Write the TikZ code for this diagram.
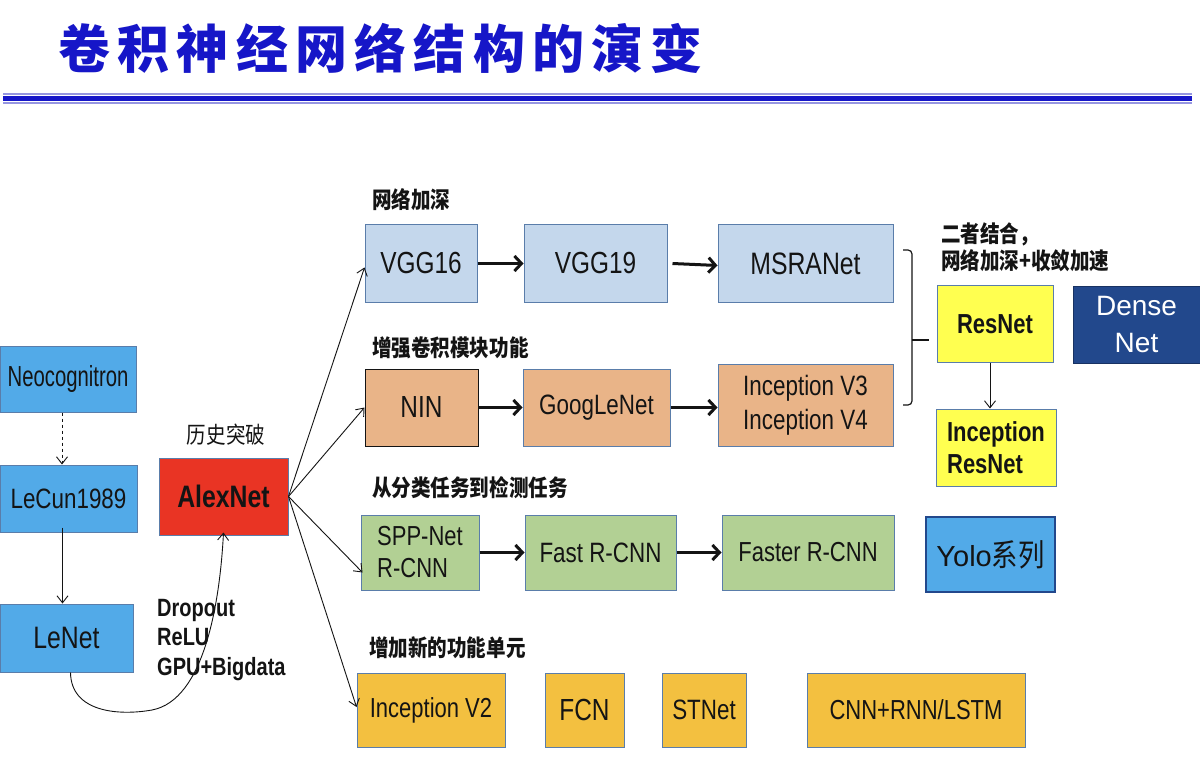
\documentclass[tikz,border=0pt]{standalone}
\usepackage{fontspec}
\setmainfont{Liberation Sans}[FakeStretch=0.8]
\newfontfamily\narrowfont{Liberation Sans}[FakeStretch=0.7]
\newfontfamily\widefont{Liberation Sans}
\newfontfamily\cjk{Noto Sans CJK SC}[FakeStretch=0.85]
\newfontfamily\titlefont{Noto Sans CJK SC}[LetterSpace=14]
\usetikzlibrary{arrows.meta,calc}

\definecolor{titleblue}{RGB}{22,22,200}
\definecolor{rulelight}{RGB}{150,150,225}
\definecolor{skyblue}{RGB}{82,170,232}
\definecolor{alexred}{RGB}{233,52,36}
\definecolor{paleblue}{RGB}{196,215,236}
\definecolor{tan}{RGB}{233,180,136}
\definecolor{sage}{RGB}{178,208,148}
\definecolor{lemon}{RGB}{255,255,80}
\definecolor{navy}{RGB}{34,72,140}
\definecolor{amber}{RGB}{243,192,64}
\definecolor{edge}{RGB}{90,125,170}
\definecolor{ink}{RGB}{20,20,20}

\tikzset{
  box/.style={draw=edge, line width=1pt, inner sep=2pt, text=ink, align=center},
  thin/.style={draw=ink, line width=0.9pt, -{Straight Barb[length=7pt,width=11pt]}},
  thick/.style={draw=ink, line width=3pt, -{Straight Barb[length=7pt,width=15pt]}},
  tag/.style={anchor=west, inner sep=0pt, text=ink, font=\cjk\bfseries\fontsize{23}{26}\selectfont},
}

\begin{document}
\begin{tikzpicture}[x=1pt,y=-1pt]
\useasboundingbox (0,0) rectangle (1200,770);
\fill[white] (0,0) rectangle (1200,770);

% title and rules
\node[anchor=west, inner sep=0pt, text=titleblue, font=\titlefont\bfseries\fontsize{52}{56}\selectfont] (title) at (58,48) {卷积神经网络结构的演变};
\draw[rulelight, line width=1.5pt] (3,94) -- (1192,94);
\draw[titleblue, line width=4.5pt] (3,98.5) -- (1192,98.5);
\draw[rulelight, line width=1.5pt] (3,103) -- (1192,103);

% early networks
\node[box, fill=skyblue, minimum width=136pt, minimum height=66pt, font=\narrowfont\fontsize{29}{30}\selectfont] (neo) at (68,379) {Neocognitron};
\node[box, fill=skyblue, minimum width=137pt, minimum height=67pt, font=\fontsize{28}{30}\selectfont] (lecun) at (68.5,498.5) {LeCun1989};
\node[box, fill=skyblue, minimum width=133pt, minimum height=68pt, font=\fontsize{31}{33}\selectfont] (lenet) at (66.5,638) {LeNet};
\node[box, fill=alexred, minimum width=129pt, minimum height=77pt, font=\bfseries\fontsize{31}{33}\selectfont] (alex) at (223.5,496.5) {AlexNet};

\node[anchor=center, inner sep=0pt, text=ink, font=\cjk\fontsize{23}{26}\selectfont] (breakthrough) at (226,435) {历史突破};
\node[anchor=north west, inner sep=0pt, text=ink, align=left, font=\bfseries\fontsize{25}{29.5}\selectfont] (tricks) at (157,599) {Dropout\\ReLU\\GPU+Bigdata};

% deeper networks
\node[tag] (deeper) at (372,200) {网络加深};
\node[box, fill=paleblue, minimum width=112pt, minimum height=77pt, font=\fontsize{30.5}{33}\selectfont] (vgg16) at (421,263.5) {VGG16};
\node[box, fill=paleblue, minimum width=143pt, minimum height=77pt, font=\fontsize{30.5}{33}\selectfont] (vgg19) at (595.5,263.5) {VGG19};
\node[box, fill=paleblue, minimum width=175pt, minimum height=77pt, font=\fontsize{31}{33}\selectfont] (msra) at (805.5,263.5) {MSRANet};

% stronger modules
\node[tag] (modules) at (372,348) {增强卷积模块功能};
\node[box, draw=ink, fill=tan, minimum width=113pt, minimum height=77pt, font=\fontsize{30.5}{33}\selectfont] (nin) at (421.5,407.5) {NIN};
\node[box, fill=tan, minimum width=147pt, minimum height=77pt, font=\fontsize{28}{30}\selectfont] (goog) at (596.5,407.5) {GoogLeNet};
\node[box, fill=tan, minimum width=175pt, minimum height=82pt, align=left, font=\fontsize{28}{34}\selectfont] (inc34) at (805.5,405) {Inception V3\\Inception V4};

% combination
\node[anchor=north west, inner sep=0pt, text=ink, align=left, font=\cjk\bfseries\fontsize{23}{27}\selectfont] (combo) at (941,222) {二者结合，\\网络加深+收敛加速};
\node[box, fill=lemon, minimum width=116pt, minimum height=76pt, font=\bfseries\fontsize{27.5}{30}\selectfont] (resnet) at (995,324) {ResNet};
\node[box, draw=navy!70!black, fill=navy, text=white, minimum width=127pt, minimum height=76pt, font=\widefont\fontsize{28}{37}\selectfont] (dense) at (1136.5,325) {Dense\\Net};
\node[box, fill=lemon, minimum width=120pt, minimum height=77pt, align=left, font=\bfseries\fontsize{27.5}{32}\selectfont] (incres) at (996,447.5) {Inception\\ResNet};

% detection
\node[tag] (detect) at (372,488) {从分类任务到检测任务};
\node[box, fill=sage, minimum width=118pt, minimum height=75pt, align=left, font=\fontsize{27.5}{32}\selectfont] (spp) at (420,552.5) {SPP-Net\\R-CNN};
\node[box, fill=sage, minimum width=151pt, minimum height=75pt, font=\fontsize{28}{30}\selectfont] (fast) at (600.5,552.5) {Fast R-CNN};
\node[box, fill=sage, minimum width=172pt, minimum height=75pt, font=\fontsize{27.5}{30}\selectfont] (faster) at (808,552.5) {Faster R-CNN};
\node[box, draw=navy, line width=1.6pt, fill=skyblue, minimum width=129pt, minimum height=75pt, font=\widefont\fontsize{29}{32}\selectfont] (yolo) at (990.5,554.5) {Yolo{\cjk\fontsize{31}{32}\selectfont 系列}};

% new units
\node[tag] (units) at (369,648) {增加新的功能单元};
\node[box, fill=amber, minimum width=148pt, minimum height=74pt, font=\fontsize{27.5}{30}\selectfont] (incv2) at (431,710) {Inception V2};
\node[box, fill=amber, minimum width=79pt, minimum height=74pt, font=\fontsize{30.5}{33}\selectfont] (fcn) at (584.5,710) {FCN};
\node[box, fill=amber, minimum width=84pt, minimum height=74pt, font=\fontsize{28}{30}\selectfont] (stnet) at (704,710) {STNet};
\node[box, fill=amber, minimum width=218pt, minimum height=74pt, font=\fontsize{27.5}{30}\selectfont] (cnnrnn) at (916,710) {CNN+RNN/LSTM};

% lineage on the left
\coordinate (n1) at ($(neo.south)+(-6,0)$);
\coordinate (l1) at ($(lecun.south)+(-6,-5)$);
\draw[thin, dashed] (n1) -- (n1 |- lecun.north);
\draw[thin] (l1) -- (l1 |- lenet.north);
\draw[thin] ($(lenet.south)+(4,0)$) .. controls (71,712) and (118,716) .. (152,710)
            .. controls (205,700) and (220,600) .. ($(alex.south)+(0,-3)$);

% AlexNet fan-out
\draw[thin] (alex.east) -- ($(vgg16.west)+(0,4)$);
\draw[thin] (alex.east) -- (nin.west);
\draw[thin] (alex.east) -- ($(spp.west)+(2,20)$);
\draw[thin] (alex.east) -- ($(incv2.west)+(0,-3)$);

% chains
\draw[thick] (vgg16.east) -- (vgg19.west);
\draw[thick] ($(vgg19.east)+(5,0)$) -- ($(msra.west)+(0,2)$);
\draw[thick] (nin.east) -- (goog.west);
\draw[thick] (goog.east) -- ($(inc34.west)+(0,2.5)$);
\draw[thick] (spp.east) -- (fast.west);
\draw[thick] (fast.east) -- (faster.west);

% brace joining both rows
\draw[ink, line width=1.2pt, rounded corners=4pt] (903,250) -- (912,250) -- (912,405) -- (903,405);
\draw[ink, line width=1.2pt] (912,340) -- (929,340);
\coordinate (r1) at ($(resnet.south)+(-5,0)$);
\draw[thin] (r1) -- (r1 |- incres.north);
\end{tikzpicture}
\end{document}
